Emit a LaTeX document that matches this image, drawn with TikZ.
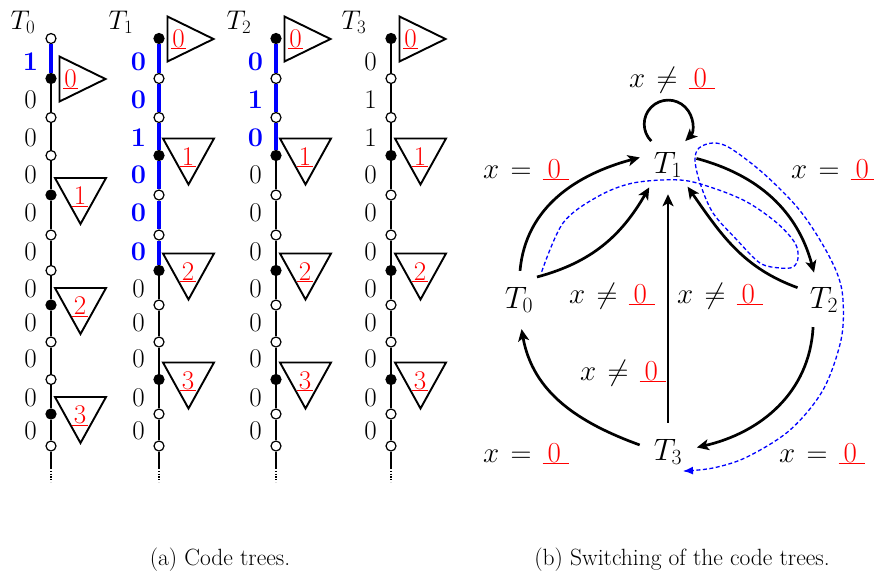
\RequirePackage{fix-cm}
\documentclass[tikz,border=0pt]{standalone}
\usetikzlibrary{arrows.meta}
\definecolor{tb}{RGB}{0,0,255}
\colorlet{tk}{black}
\definecolor{ur}{RGB}{255,0,0}
\newcommand{\fonttb}{\bfseries}
\newcommand{\fonttk}{\mdseries}
\newcommand{\rz}[1]{{\color{ur}\ensuremath{\underline{\mskip1mu #1\mskip1mu}}}}
\newcommand{\rzg}[1]{{\color{ur}\underline{\mskip3mu #1\mskip5mu}}}
\def\nodeys{{38.5,78.5,117.5,155.5,195,235,270.5,305,342,379.5,414,446}}
\def\labys{{62,100,137.5,175,213,251.5,288.5,322.5,359,397.5,430.5}}
\tikzset{
  nd/.style={circle,draw=black,line width=1.2pt,minimum size=10pt,inner sep=0pt},
  trunk/.style={line width=2pt},
  btrunk/.style={line width=4pt,draw=tb},
  tri/.style={line width=1.9pt,line join=miter},
  dig/.style={inner sep=0pt,font=\fontsize{27}{30}\selectfont},
  tdig/.style={inner sep=0pt,anchor=base,font=\fontsize{27}{30}\selectfont},
  tname/.style={inner sep=0pt,font=\fontsize{27}{29}\selectfont},
  gnode/.style={circle,minimum size=58pt,inner sep=0pt,font=\fontsize{31}{34}\selectfont},
  glab/.style={inner sep=0pt,anchor=base,font=\fontsize{29}{32}\selectfont},
  arr/.style={line width=2.7pt,-{Stealth[length=12pt,width=11pt,inset=3pt]}},
  bdash/.style={draw=tb,line width=1.3pt,dash pattern=on 4pt off 2.5pt,-{Latex[length=10pt,width=8pt]}},
  captext/.style={inner sep=0pt,anchor=base,font=\fontsize{23.5}{26}\selectfont},
}
% #1 id, #2 x, #3 fills (12), #4 blue segments, #5 digit/colour (11)
\newcommand{\codetree}[5]{%
  \foreach \fc [count=\k from 0] in {#3}{%
    \pgfmathsetmacro\yy{\nodeys[\k]}%
    \node[nd,fill=\fc] (#1n\k) at (#2,-\yy) {};}
  \foreach \k [evaluate=\k as \j using {int(\k+1)}] in {0,...,10}{%
    \ifnum\k<#4\relax \draw[btrunk] (#1n\k) -- (#1n\j);%
    \else \draw[trunk] (#1n\k) -- (#1n\j);\fi}
  \coordinate (#1e) at (#2,-468);
  \coordinate (#1f) at (#2,-482);
  \draw[trunk] (#1n11) -- (#1e);
  \draw[trunk,dash pattern=on 1.2pt off 1.6pt] (#1e) -- (#1f);
  \foreach \dd/\cc [count=\k from 0] in {#5}{%
    \pgfmathsetmacro\yy{\labys[\k]}%
    \node[dig,text=\cc] (#1l\k) at ({#2-20.5},-\yy) {\csname font\cc\endcsname\dd};}
}
\newcommand{\rtri}[3]{%
  \draw[tri] ([shift={(8.5,22)}]#1.center) -- ++(46,-22.5) -- ++(-46,-22.5) -- cycle;
  \node[tdig] (#2) at ([shift={(19.5,-8.5)}]#1.center) {\rz{0}};}
\newcommand{\dtri}[3]{%
  \draw[tri] ([shift={(4,17)}]#1.center) -- ++(51,0) -- ++(-25.5,-46) -- cycle;
  \node[tdig] (#2) at ([shift={(29,-9.5)}]#1.center) {\rz{#3}};}
\begin{document}
\begin{tikzpicture}[x=1pt,y=1pt]
\useasboundingbox (0,0) rectangle (874,-579);
% ---------- code trees ----------
\codetree{a}{51}{white,black,white,white,black,white,white,black,white,white,black,white}{1}
  {1/tb,0/tk,0/tk,0/tk,0/tk,0/tk,0/tk,0/tk,0/tk,0/tk,0/tk}
\codetree{b}{159}{black,white,white,black,white,white,black,white,white,black,white,white}{6}
  {0/tb,0/tb,1/tb,0/tb,0/tb,0/tb,0/tk,0/tk,0/tk,0/tk,0/tk}
\codetree{c}{276}{black,white,white,black,white,white,black,white,white,black,white,white}{3}
  {0/tb,1/tb,0/tb,0/tk,0/tk,0/tk,0/tk,0/tk,0/tk,0/tk,0/tk}
\codetree{d}{391}{black,white,white,black,white,white,black,white,white,black,white,white}{0}
  {0/tk,1/tk,1/tk,0/tk,0/tk,0/tk,0/tk,0/tk,0/tk,0/tk,0/tk}
\rtri{an1}{at0}{0}
\dtri{an4}{at1}{1}
\dtri{an7}{at2}{2}
\dtri{an10}{at3}{3}
\rtri{bn0}{bt0}{0}
\dtri{bn3}{bt1}{1}
\dtri{bn6}{bt2}{2}
\dtri{bn9}{bt3}{3}
\rtri{cn0}{ct0}{0}
\dtri{cn3}{ct1}{1}
\dtri{cn6}{ct2}{2}
\dtri{cn9}{ct3}{3}
\rtri{dn0}{dt0}{0}
\dtri{dn3}{dt1}{1}
\dtri{dn6}{dt2}{2}
\dtri{dn9}{dt3}{3}
\node[tname] (na) at (23,-22) {$T_0$};
\node[tname] (nb) at (121,-22) {$T_1$};
\node[tname] (nc) at (239,-22) {$T_2$};
\node[tname] (nd) at (354,-22) {$T_3$};
% ---------- switching graph ----------
\node[gnode] (G1) at (668,-165) {$T_1$};
\node[gnode] (G0) at (519,-300) {$T_0$};
\node[gnode] (G2) at (824,-300) {$T_2$};
\node[gnode] (G3) at (668,-452) {$T_3$};
\draw[arr] (G1.125) arc[start angle=225,end angle=-45,radius=24];
\draw[arr] (G0.88) to[out=85,in=195] (G1.165);
\draw[arr] (G0.52) to[out=15,in=240] (G1.230);
\draw[arr] (G3.north) -- (G1.south);
\draw[arr] (G2.155) to[out=160,in=-55] (G1.-48);
\draw[arr] (G1.13) to[out=-15,in=105] (G2.110);
\draw[arr] (G2.248) to[out=-93,in=13] (G3.9);
\draw[arr] (G3.166) to[out=160,in=-80] (G0.275);
\coordinate (bs) at (541.7,-271.7);
\coordinate (be) at (683,-471);
\draw[bdash] plot[smooth,tension=0.55] coordinates {(bs) (563,-223) (597,-197) (633,-183) (680,-180) (713,-188) (747,-202) (777,-223) (795,-243) (798,-258) (793,-267) (780,-268) (760,-263) (737,-240) (713,-213) (700,-183) (695,-160) (699,-148) (713,-143) (730,-148) (763,-173) (797,-207) (820,-240) (837,-273) (843,-300) (841,-340) (823,-390) (790,-430) (747,-457) (713,-468) (be)};
\node[glab] (l11) at (672,-87) {$x\mskip2mu\neq\mskip2mu\rzg{0}$};
\node[glab] (l01) at (526,-178) {$x\mskip2mu=\mskip2mu\rzg{0}$};
\node[glab] (l12) at (834,-178) {$x\mskip2mu=\mskip2mu\rzg{0}$};
\node[glab] (l0a) at (612,-303) {$x\mskip2mu\neq\mskip2mu\rzg{0}$};
\node[glab] (l21) at (720,-303) {$x\mskip2mu\neq\mskip2mu\rzg{0}$};
\node[glab] (l31) at (623,-380) {$x\mskip2mu\neq\mskip2mu\rzg{0}$};
\node[glab] (l30) at (526,-462) {$x\mskip2mu=\mskip2mu\rzg{0}$};
\node[glab] (l23) at (822,-462) {$x\mskip2mu=\mskip2mu\rzg{0}$};
% ---------- captions ----------
\node[captext] (capa) at (220,-565) {(a) Code trees.};
\node[captext] (capb) at (682,-565) {(b) Switching of the code trees.};
\end{tikzpicture}
\end{document}
